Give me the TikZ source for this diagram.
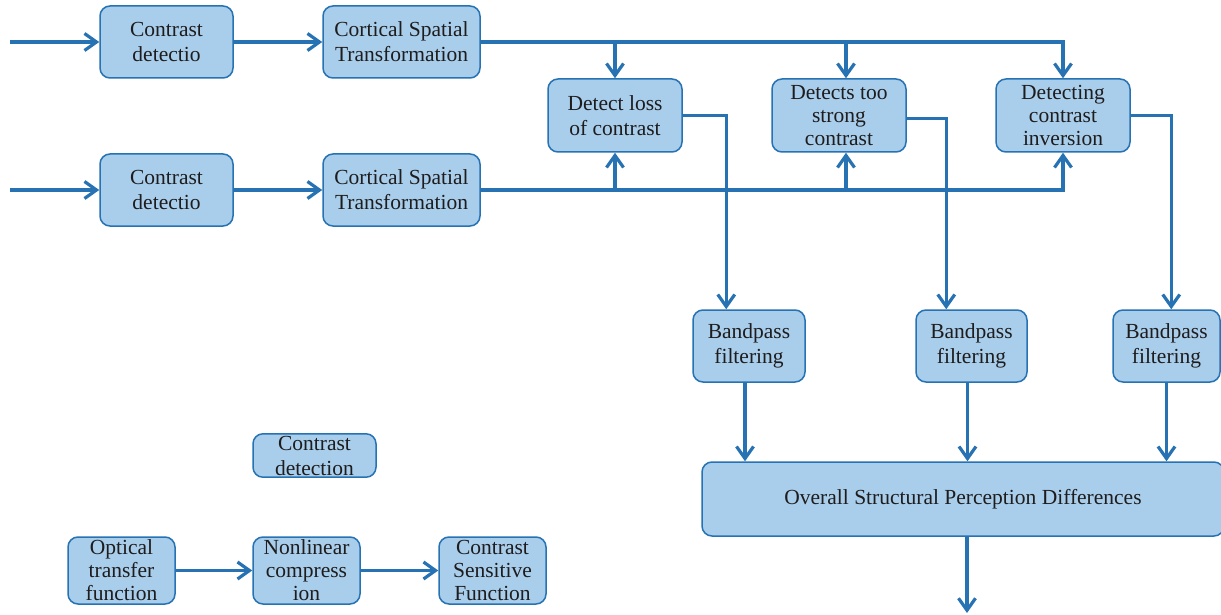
\documentclass[tikz,border=0pt]{standalone}
\usepackage{fontspec}
\setmainfont{Liberation Serif}
\usetikzlibrary{arrows.meta}
\definecolor{boxfill}{RGB}{169,206,236}
\definecolor{lineblue}{RGB}{38,114,178}
\definecolor{txt}{RGB}{30,28,28}
\begin{document}
\begin{tikzpicture}[x=0.5pt,y=-0.5pt,
  blk/.style={draw=lineblue, fill=boxfill, line width=0.75pt, rounded corners=5pt,
    align=center, inner sep=1pt, text=txt, font=\fontsize{10.75}{12.5}\selectfont},
  tri/.style={font=\fontsize{10.75}{11.5}\selectfont},
  conn/.style={draw=lineblue, line width=1.6pt,
    -{Straight Barb[length=6pt,width=8.5pt]}}]
\useasboundingbox (0,0) rectangle (1221,615);
% top rows
\node[blk, minimum width=66.5pt, minimum height=36pt] (cd1) at (166.5,42) {Contrast\\detectio};
\node[blk, minimum width=78.5pt, minimum height=36pt] (cst1) at (401.5,42) {Cortical Spatial\\Transformation};
\node[blk, minimum width=66.5pt, minimum height=36pt] (cd2) at (166.5,190) {Contrast\\detectio};
\node[blk, minimum width=78.5pt, minimum height=36pt] (cst2) at (401.5,190) {Cortical Spatial\\Transformation};
\coordinate (in1) at (10,42);
\coordinate (in2) at (10,190);
% detectors
\node[blk, minimum width=67pt, minimum height=36.5pt] (dlc) at (615,115.5) {Detect loss\\of contrast};
\node[blk, tri, minimum width=67pt, minimum height=36.5pt] (dts) at (839,115.5) {Detects too\\strong\\contrast};
\node[blk, tri, minimum width=67pt, minimum height=36.5pt] (dci) at (1063,115.5) {Detecting\\contrast\\inversion};
% bandpass
\node[blk, minimum width=56pt, minimum height=36pt] (bp1) at (749,346) {Bandpass\\filtering};
\node[blk, minimum width=55.5pt, minimum height=36pt] (bp2) at (971.5,346) {Bandpass\\filtering};
\node[blk, minimum width=53.5pt, minimum height=36pt] (bp3) at (1166.5,346) {Bandpass\\filtering};
\node[blk, minimum width=261pt, minimum height=37pt] (osp) at (963,499) {Overall Structural Perception Differences};
\coordinate (out) at (967,613);
% bottom left
\node[blk, minimum width=61.5pt, minimum height=21.5pt] (cdt) at (314.5,455.5) {Contrast\\detection};
\node[blk, tri, minimum width=53.5pt, minimum height=33.5pt] (otf) at (121.5,570.5) {Optical\\transfer\\function};
\node[blk, tri, minimum width=53.5pt, minimum height=33.5pt] (nc) at (306.5,570.5) {Nonlinear\\compress\\ion};
\node[blk, tri, minimum width=53.5pt, minimum height=33.5pt] (csf) at (492.5,570.5) {Contrast\\Sensitive\\Function};
% connectors
\draw[conn] (in1) -- (cd1);
\draw[conn] (cd1) -- (cst1);
\draw[conn] (in2) -- (cd2);
\draw[conn] (cd2) -- (cst2);
\draw[conn] (cst1.east) -| (dci.north);
\draw[conn] (dlc.north |- cst1.east) -- (dlc.north);
\draw[conn] ([xshift=3.5pt]dts.north |- cst1.east) -- ([xshift=3.5pt]dts.north);
\draw[conn] (cst2.east) -| (dci.south);
\draw[conn] (dlc.south |- cst2.east) -- (dlc.south);
\draw[conn] ([xshift=3.5pt]dts.south |- cst2.east) -- ([xshift=3.5pt]dts.south);
\draw[conn] (dlc.east) -| ([xshift=17pt]bp1.north west);
\draw[conn] ([yshift=-1.5pt]dts.east) -| ([xshift=15.5pt]bp2.north west);
\draw[conn] (dci.east) -| ([xshift=29.5pt]bp3.north west);
\draw[conn] ([xshift=-2pt]bp1.south) -- ([xshift=-2pt]bp1.south |- osp.north);
\draw[conn] ([xshift=-2pt]bp2.south) -- ([xshift=-2pt]bp2.south |- osp.north);
\draw[conn] (bp3.south) -- (bp3.south |- osp.north);
\draw[conn] (osp.south -| out) -- (out);
\draw[conn] (otf) -- (nc);
\draw[conn] (nc) -- (csf);
\end{tikzpicture}
\end{document}
